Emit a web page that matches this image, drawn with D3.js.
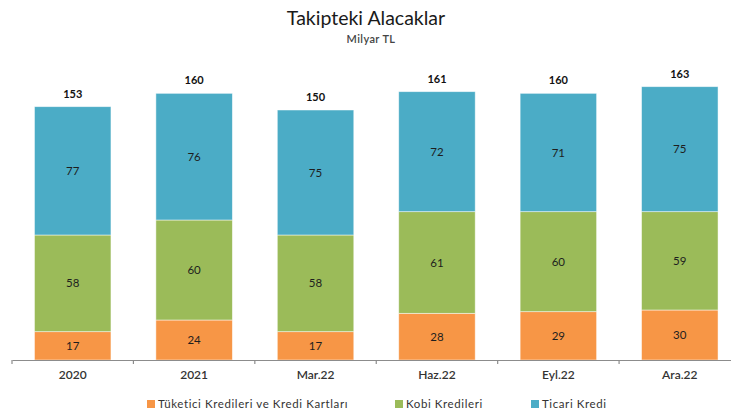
<!DOCTYPE html>
<html>
<head>
<meta charset="utf-8">
<script src="https://cdn.jsdelivr.net/npm/d3@7"></script>
<style>
  body { margin: 0; background: #fff; }
  svg { font-family: Lato, "Open Sans", sans-serif; }
</style>
</head>
<body>
<div id="chart"></div>
<script>
// values (milyar TL)
var categories = ["2020", "2021", "Mar.22", "Haz.22", "Eyl.22", "Ara.22"];
var tuketici = [17, 24, 17, 28, 29, 30];
var kobi = [58, 60, 58, 61, 60, 59];
var ticari = [77, 76, 75, 72, 71, 75];
var totals = [153, 160, 150, 161, 160, 163];

var seriesNames = ["Tüketici Kredileri ve Kredi Kartları", "Kobi Kredileri", "Ticari Kredi"];
var seriesColors = ["#F79646", "#9BBB59", "#4BACC6"];

var svgWidth = 731;
var svgHeight = 413;

var svg = d3.select("#chart")
  .append("svg")
  .attr("width", svgWidth)
  .attr("height", svgHeight);

// title
svg.append("text")
  .attr("x", 366).attr("y", 25)
  .attr("text-anchor", "middle")
  .attr("font-size", 19.5)
  .attr("fill", "#1a1a1a")
  .text("Takipteki Alacaklar");

svg.append("text")
  .attr("x", 371).attr("y", 43)
  .attr("text-anchor", "middle")
  .attr("font-size", 11)
  .attr("font-weight", 600)
  .attr("letter-spacing", 0.4)
  .attr("fill", "#444")
  .text("Milyar TL");

// scales
var xScale = d3.scaleBand()
  .domain(categories)
  .range([12, 740.5])
  .paddingInner(0.37)
  .paddingOuter(0.185);

var yScale = d3.scaleLinear()
  .domain([0, 180])
  .range([360, 60]);

// build stack table
var table = categories.map(function(c, i) {
  return { cat: c, t: tuketici[i], k: kobi[i], c2: ticari[i] };
});
var stack = d3.stack().keys(["t", "k", "c2"]);
var layers = stack(table);

var layerGroup = svg.selectAll(".layer")
  .data(layers)
  .enter()
  .append("g")
  .attr("fill", (d, i) => seriesColors[i]);

layerGroup.selectAll("rect")
  .data(d => d)
  .enter()
  .append("rect")
  .attr("x", d => xScale(d.data.cat))
  .attr("width", xScale.bandwidth())
  .attr("y", d => yScale(d[1]))
  .attr("height", d => yScale(d[0]) - yScale(d[1]))
  .attr("stroke", "#fff")
  .attr("stroke-width", 0.8)
  .attr("stroke-opacity", 0.6);

// segment labels
layerGroup.selectAll("text")
  .data(d => d)
  .enter()
  .append("text")
  .attr("x", d => xScale(d.data.cat) + xScale.bandwidth() / 2)
  .attr("y", d => (yScale(d[0]) + yScale(d[1])) / 2 + 4)
  .attr("text-anchor", "middle")
  .attr("font-size", 11.5)
  .attr("fill", "#1e1e1e")
  .text(d => d[1] - d[0]);

// total labels
svg.selectAll(".total")
  .data(table)
  .enter()
  .append("text")
  .attr("class", "total")
  .attr("x", d => xScale(d.cat) + xScale.bandwidth() / 2)
  .attr("y", d => yScale(d.t + d.k + d.c2) - 9)
  .attr("text-anchor", "middle")
  .attr("font-size", 11)
  .attr("font-weight", 700)
  .attr("fill", "#111")
  .text((d, i) => totals[i]);

// x axis
var xAxis = d3.axisBottom(xScale).tickSize(0).tickPadding(10);
var axisG = svg.append("g")
  .attr("transform", "translate(0,360)")
  .call(xAxis);
axisG.select(".domain").attr("stroke", "#8c8c8c").attr("stroke-width", 1.2);
axisG.selectAll("text")
  .attr("font-family", "Lato, sans-serif")
  .attr("font-size", 12)
  .attr("font-weight", 600)
  .attr("fill", "#333");

// tick marks on category boundaries
var bounds = categories.map(c => xScale(c) - xScale.step() * xScale.paddingInner() / 2);
bounds.push(xScale.range()[1]);
axisG.selectAll(".bound")
  .data(bounds)
  .enter()
  .append("line")
  .attr("x1", d => d).attr("x2", d => d)
  .attr("y1", 0).attr("y2", 4)
  .attr("stroke", "#8c8c8c")
  .attr("stroke-width", 1.2);

// legend
var legendX = [147, 395, 531];
var legend = svg.selectAll(".legend")
  .data(seriesNames)
  .enter()
  .append("g")
  .attr("transform", (d, i) => "translate(" + legendX[i] + ",400)");

legend.append("rect")
  .attr("width", 8).attr("height", 8)
  .attr("fill", (d, i) => seriesColors[i]);

legend.append("text")
  .attr("x", 11).attr("y", 8)
  .attr("font-size", 11.5)
  .attr("letter-spacing", 0.6)
  .attr("fill", "#333")
  .text(d => d);
</script>
</body>
</html>
